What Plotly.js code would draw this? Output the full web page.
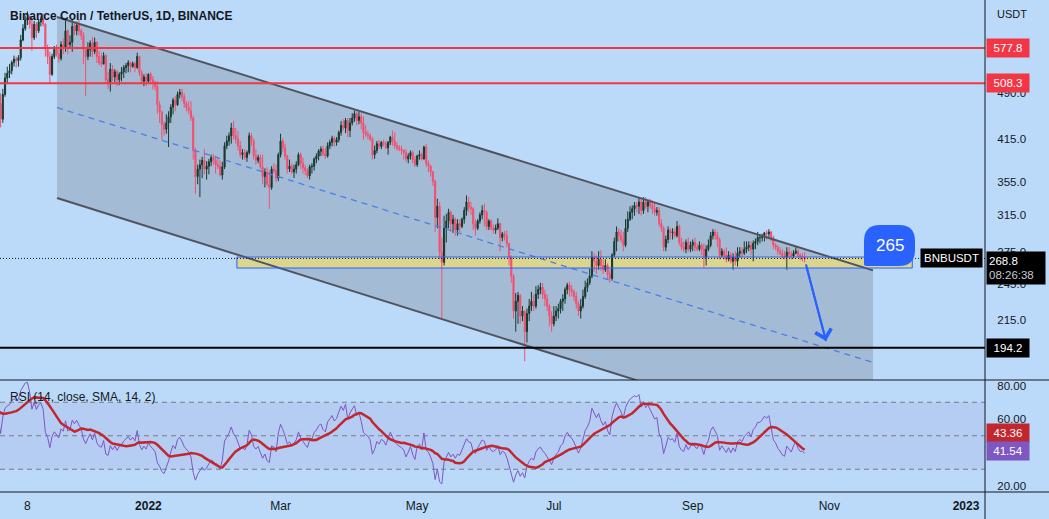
<!DOCTYPE html>
<html>
<head>
<meta charset="utf-8">
<script src="https://cdn.plot.ly/plotly-3.0.1.min.js"></script>
<style>
html,body{margin:0;padding:0;background:#bbdaf9;}
#chart{width:1049px;height:519px;}
</style>
</head>
<body>
<div id="chart"></div>
<script>
// ---------------- DATA (BNB/USDT daily) ----------------
const startDate = '2021-09-28';
const firstOpen = 380;
const close = [
385,392,380,
418,412,426,420,436,428,440,430,436,404,412,420,446,470,462,458,474,464,470,478,462,472,480,474,484,472,446,488,518,527,532,
548,555,552,558,595,620,640,645,630,600,630,615,635,642,630,575,560,525,560,575,566,556,585,578,615,585,590,625,615,628,
615,605,575,560,575,588,570,590,560,548,545,562,515,510,535,520,530,515,525,530,538,542,548,540,546,538,560,528,512,520,512,
525,515,510,502,470,458,438,430,440,450,466,478,470,488,492,484,472,465,460,448,398,362,372,378,384,372,376,382,388,384,378,
376,364,375,405,412,420,432,420,415,405,392,395,388,395,420,412,390,384,388,375,362,368,352,348,372,370,360,392,
412,402,390,372,376,368,372,378,392,380,374,370,363,375,376,386,390,397,400,393,390,405,410,416,410,414,425,436,432,444,428,
440,448,455,444,450,440,425,422,420,415,392,398,408,404,410,408,402,410,418,412,405,402,400,398,395,386,390,395,385,378,
390,392,386,403,380,376,368,356,312,325,275,265,300,308,318,305,310,298,305,302,310,320,330,324,322,305,300,308,315,320,318,
302,308,300,298,300,305,290,294,292,284,270,252,222,230,235,218,222,206,220,226,230,226,236,240,242,236,232,226,218,212,
218,222,224,230,232,240,244,240,238,234,228,222,226,234,242,246,252,270,266,262,268,262,258,262,254,250,272,286,296,292,288,
282,300,310,318,322,326,325,330,320,330,325,330,326,322,318,320,305,300,280,288,298,295,296,292,302,285,280,278,285,278,282,
285,280,278,282,278,270,278,282,292,296,292,288,272,276,272,268,272,266,270,266,274,276,274,278,280,282,278,284,286,290,
290,292,295,294,296,290,282,280,276,274,271,270,275,273,271,274,276,272,270,270,268.8
];
const high = [
392,398,396,
422,424,432,430,442,440,446,444,442,440,418,425,450,475,478,470,480,478,476,486,482,476,486,486,490,488,490,498,528,540,545,
552,562,560,563,606,630,650,660,650,648,638,635,642,648,655,632,585,570,566,582,585,575,592,598,640,618,605,640,632,636,
642,620,612,580,590,594,601,600,592,572,567,569,565,530,547,543,535,533,529,539,543,547,553,550,550,550,568,562,533,525,527,
527,530,522,513,512,476,460,443,454,459,471,482,485,493,498,498,490,476,476,476,452,402,378,385,389,400,383,386,392,393,390,
388,384,382,410,420,425,440,443,432,428,412,400,400,398,425,424,416,400,392,392,392,373,374,370,376,380,378,395,
423,416,408,392,385,380,378,383,395,395,388,378,373,378,380,388,394,400,404,405,402,410,414,420,419,418,428,443,446,448,448,
448,456,460,458,458,455,451,436,428,424,418,405,412,414,412,414,412,412,420,428,425,410,406,405,400,400,394,398,398,390,
392,398,395,405,408,384,378,370,358,334,330,290,314,316,322,320,315,312,310,310,312,324,338,336,330,324,310,310,318,326,328,
320,310,310,304,304,311,306,296,297,298,284,272,254,237,238,236,226,222,224,232,238,236,243,244,246,246,240,236,228,222,
226,226,228,232,236,242,246,247,244,240,238,230,232,240,248,250,259,276,274,272,276,277,268,268,264,258,274,290,302,300,298,
296,310,319,325,326,330,330,335,334,336,336,333,334,332,330,324,324,310,302,292,302,300,300,300,308,304,290,286,288,290,286,
288,290,284,286,284,284,282,288,296,299,299,296,290,279,278,280,276,275,274,276,280,280,280,286,286,286,286,287,289,296,
294,294,296,298,299,297,292,284,282,280,278,276,280,280,276,277,280,278,274,274,275
];
const low = [
375,380,372,
378,404,408,412,416,422,426,424,426,398,396,405,416,442,455,450,455,460,462,466,458,460,468,470,472,466,433,440,484,508,518,
525,540,538,540,552,592,615,628,620,572,595,600,610,625,625,560,545,508,522,555,560,548,552,565,570,565,578,570,605,605,
605,595,545,485,553,560,559,565,547,543,539,545,507,498,493,512,510,503,505,512,518,527,529,529,538,529,536,522,507,503,503,
507,507,497,495,455,440,414,420,423,403,440,454,459,468,481,476,465,459,454,443,385,340,352,336,360,365,358,365,376,378,366,
372,362,358,372,400,405,408,414,408,398,388,385,385,382,392,405,385,378,380,372,352,348,350,322,345,366,355,356,
388,396,385,366,368,365,360,366,376,372,366,364,360,358,366,370,380,384,390,390,386,388,400,404,404,405,410,420,428,424,418,
418,436,442,436,438,430,414,418,414,412,385,386,394,400,400,404,400,392,406,405,400,398,397,392,385,382,380,385,380,375,
375,385,384,385,375,368,362,350,296,300,268,216,262,285,300,296,295,292,292,296,300,305,314,318,315,298,292,298,305,310,302,
298,298,298,294,294,298,276,286,287,280,262,246,216,206,212,212,214,185,198,214,222,222,224,232,236,232,226,222,210,206,
210,214,216,220,222,228,236,234,234,230,224,218,216,224,232,238,244,250,256,254,258,257,254,256,249,246,248,270,276,286,285,
276,280,296,308,310,314,318,316,314,316,322,318,322,316,314,314,302,296,276,276,284,288,288,290,290,282,277,275,274,276,275,
276,276,276,276,272,260,262,276,280,288,288,280,268,270,268,265,266,264,258,262,261,270,270,272,274,276,272,266,278,282,
284,286,286,288,289,286,278,277,272,272,269,268,258,270,268,269,273,270,267,266,265
];

// Horizontal levels and tag texts
const redLevels = [577.8, 508.3];
const blackLevel = 194.2;
const lastPrice = 268.8;
const countdown = '08:26:38';
const symbolName = 'BNBUSDT';
const rsiTagValues = [43.36, 41.54];
const zoneText = '265';

// Drawings (anchor points: dates / prices)
const channelDates = ['2021-11-21 05:00', '2022-11-20 11:30'];
const channelUpper = [646.7, 257.4];
const channelLower = [334.9, 131.7];
const channelMid = [465.4, 184.1];
const zoneDates = ['2022-02-09 12:00', '2022-12-08 00:00'];
const zonePrices = [259.6, 270.2];
const arrowDates = ['2022-10-21 13:00', '2022-10-30 12:00'];
const arrowPrices = [263.2, 199.1];

// Axis ticks
const xTickVals = ['2021-11-08', '2022-01-01', '2022-03-01', '2022-05-01', '2022-07-01', '2022-09-01', '2022-11-01', '2023-01-01'];
const xTickText = ['8', '<b>2022</b>', 'Mar', 'May', 'Jul', 'Sep', 'Nov', '<b>2023</b>'];
const yTickVals = [215, 245, 275, 315, 355, 415, 490];
const yTickText = ['215.0', '245.0', '275.0', '315.0', '355.0', '415.0', '490.0'];
const rsiTickVals = [20, 60, 80];
const rsiTickText = ['20.00', '60.00', '80.00'];
const xRange = ['2021-10-26 18:00', '2023-01-09 11:30'];
const yRange = [172.77, 688.0];
const rsiRange = [16.42, 83.28];

// ---------------- DERIVED ----------------
const dates = close.map((_, i) => {
  const d = new Date(Date.UTC(2021, 8, 28 + i));
  return d.toISOString().slice(0, 10);
});
const open = close.map((c, i) => (i === 0 ? firstOpen : close[i - 1]));

function rsiCalc(src, len) {
  const out = new Array(src.length).fill(null);
  let au = 0, ad = 0;
  for (let i = 1; i < src.length; i++) {
    const ch = src[i] - src[i - 1];
    const u = Math.max(ch, 0), d = Math.max(-ch, 0);
    if (i <= len) { au += u / len; ad += d / len; }
    else { au = (au * (len - 1) + u) / len; ad = (ad * (len - 1) + d) / len; }
    if (i >= len) out[i] = ad === 0 ? 100 : 100 - 100 / (1 + au / ad);
  }
  return out;
}
function smaCalc(src, len) {
  const out = new Array(src.length).fill(null);
  for (let i = 0; i < src.length; i++) {
    if (i < len - 1) continue;
    let s = 0, ok = true;
    for (let k = i - len + 1; k <= i; k++) { if (src[k] === null) { ok = false; break; } s += src[k]; }
    if (ok) out[i] = s / len;
  }
  return out;
}
const rsi = rsiCalc(close, 14);
const rsiMA = smaCalc(rsi, 14);

// ---------------- LAYOUT GEOMETRY ----------------
const W = 1049, H = 519, ML = 0, MR = 64, MT = 0, MB = 27;
const PW = W - ML - MR, PH = H - MT - MB;
const split = 112 / PH;
const fx = x => x / PW;
const fy = y => 1 - y / PH;
function ms(s) { const parts = s.split(' '); return Date.parse(parts[0] + 'T' + (parts[1] || '00:00') + ':00Z'); }
const T0 = ms(xRange[0]), T1 = ms(xRange[1]);
const LY0 = Math.log10(yRange[0]), LY1 = Math.log10(yRange[1]);
const xp = s => (ms(s) - T0) / (T1 - T0);                          // date -> paper x
const yp = p => split + (Math.log10(p) - LY0) / (LY1 - LY0) * (1 - split); // price -> paper y

const BG = '#bbdaf9';
const TXT = '#131722';
const FONT = 'Liberation Sans, Arial, sans-serif';

const traces = [];
// channel lines
traces.push({type: 'scatter', mode: 'lines', x: channelDates, y: channelUpper, line: {color: '#50545f', width: 2}, hoverinfo: 'skip', showlegend: false});
traces.push({type: 'scatter', mode: 'lines', x: channelDates, y: channelLower, line: {color: '#50545f', width: 2}, hoverinfo: 'skip', showlegend: false});
traces.push({type: 'scatter', mode: 'lines', x: channelDates, y: channelMid, line: {color: '#4a7fe6', width: 1.3, dash: '6px,5px'}, hoverinfo: 'skip', showlegend: false});
// zone border
traces.push({
  type: 'scatter', mode: 'lines', xaxis: 'x', yaxis: 'y',
  x: [zoneDates[0], zoneDates[1], zoneDates[1], zoneDates[0], zoneDates[0]],
  y: [zonePrices[0], zonePrices[0], zonePrices[1], zonePrices[1], zonePrices[0]],
  line: {width: 1, color: '#2962ff'}, hoverinfo: 'skip', showlegend: false
});
// last price dotted line
traces.push({type: 'scatter', mode: 'lines', x: xRange, y: [lastPrice, lastPrice], line: {color: TXT, width: 1, dash: '1px,2px'}, hoverinfo: 'skip', showlegend: false});
// candles
traces.push({
  type: 'candlestick', x: dates, open: open, high: high, low: low, close: close,
  xaxis: 'x', yaxis: 'y',
  increasing: {line: {color: '#163a2d', width: 1}, fillcolor: '#163a2d'},
  decreasing: {line: {color: '#f2506f', width: 1}, fillcolor: '#f2506f'},
  whiskerwidth: 0, hoverinfo: 'skip', showlegend: false
});
// horizontal levels
redLevels.forEach(v => traces.push({type: 'scatter', mode: 'lines', x: xRange, y: [v, v], line: {color: '#f23645', width: 2}, hoverinfo: 'skip', showlegend: false}));
traces.push({type: 'scatter', mode: 'lines', x: xRange, y: [blackLevel, blackLevel], line: {color: '#000000', width: 2}, hoverinfo: 'skip', showlegend: false});
// arrow shaft
traces.push({type: 'scatter', mode: 'lines', x: arrowDates, y: arrowPrices, line: {color: '#2962ff', width: 2}, hoverinfo: 'skip', showlegend: false});
// RSI
traces.push({type: 'scatter', mode: 'lines', x: dates, y: rsi, xaxis: 'x', yaxis: 'y2', line: {color: '#7e57c2', width: 1}, hoverinfo: 'skip', showlegend: false});
traces.push({type: 'scatter', mode: 'lines', x: dates, y: rsiMA, xaxis: 'x', yaxis: 'y2', line: {color: '#c2262f', width: 2.5}, hoverinfo: 'skip', showlegend: false});

// ---------------- SHAPES ----------------
const shapes = [];
// channel fill (paper coords, clipped to the price pane)
(function () {
  const xa = xp(channelDates[0]), xb = xp(channelDates[1]);
  const ua = yp(channelUpper[0]), ub = yp(channelUpper[1]);
  const la = yp(channelLower[0]), lb = yp(channelLower[1]);
  let pts;
  if (lb < split) {
    const t = (la - split) / (la - lb);
    const xi = xa + t * (xb - xa);
    pts = [[xa, ua], [xb, ub], [xb, split], [xi, split], [xa, la]];
  } else {
    pts = [[xa, ua], [xb, ub], [xb, lb], [xa, la]];
  }
  const path = 'M' + pts.map(p => p[0] + ',' + p[1]).join(' L') + ' Z';
  shapes.push({type: 'path', xref: 'paper', yref: 'paper', path: path, fillcolor: '#a4bbd6', line: {width: 0}, layer: 'below'});
})();
// yellow zone fill
shapes.push({type: 'rect', xref: 'paper', yref: 'paper', x0: xp(zoneDates[0]), x1: xp(zoneDates[1]), y0: yp(zonePrices[0]), y1: yp(zonePrices[1]),
  fillcolor: '#dcd58e', line: {width: 0}, layer: 'below'});
// RSI band and levels
shapes.push({type: 'rect', xref: 'paper', yref: 'y2', x0: 0, x1: 1, y0: 30, y1: 70, fillcolor: 'rgba(126,87,194,0.10)', line: {width: 0}, layer: 'below'});
[70, 50, 30].forEach(v => shapes.push({type: 'line', xref: 'paper', yref: 'y2', x0: 0, x1: 1, y0: v, y1: v, line: {color: '#787b86', width: 1, dash: '5px,4px'}, layer: 'below'}));
// pane separators and price-scale border
shapes.push({type: 'line', xref: 'paper', yref: 'paper', x0: 0, x1: W / PW, y0: split, y1: split, line: {color: TXT, width: 1}});
shapes.push({type: 'line', xref: 'paper', yref: 'paper', x0: 0, x1: W / PW, y0: 0, y1: 0, line: {color: TXT, width: 1}});
shapes.push({type: 'line', xref: 'paper', yref: 'paper', x0: 1, x1: 1, y0: -MB / PH, y1: 1, line: {color: TXT, width: 1}});
// "265" bubble (rounded callout)
(function () {
  const l = 864, r = 915, t = 225, b = 266, rr = 16, rs = 2;
  const P = (x, y) => fx(x) + ',' + fy(y);
  const path = 'M' + P(l + rr, t) + ' L' + P(r - rr, t) + ' Q' + P(r, t) + ' ' + P(r, t + rr) +
    ' L' + P(r, b - rr) + ' Q' + P(r, b) + ' ' + P(r - rr, b) +
    ' L' + P(l + rs, b) + ' Q' + P(l, b) + ' ' + P(l, b - rs) +
    ' L' + P(l, t + rr) + ' Q' + P(l, t) + ' ' + P(l + rr, t) + ' Z';
  shapes.push({type: 'path', xref: 'paper', yref: 'paper', path: path, fillcolor: '#2962ff', line: {width: 0}});
})();

// ---------------- ANNOTATIONS ----------------
const annotations = [];
annotations.push({xref: 'paper', yref: 'paper', x: 0, y: fy(16), xanchor: 'left', yanchor: 'middle', xshift: 8, showarrow: false,
  text: 'Binance Coin / TetherUS, 1D, BINANCE', font: {family: FONT, size: 12, weight: 600, color: TXT}});
annotations.push({xref: 'paper', yref: 'paper', x: 0, y: fy(397), xanchor: 'left', yanchor: 'middle', xshift: 8, showarrow: false,
  text: 'RSI (14, close, SMA, 14, 2)', font: {family: FONT, size: 12, color: TXT}});
annotations.push({xref: 'paper', yref: 'paper', x: 1, y: fy(14), xanchor: 'left', yanchor: 'middle', xshift: 10, showarrow: false,
  text: 'USDT', font: {family: FONT, size: 11, color: TXT}});
annotations.push({xref: 'paper', yref: 'paper', x: fx(889.5), y: fy(245), xanchor: 'center', yanchor: 'middle', showarrow: false,
  text: zoneText, font: {family: FONT, size: 17, color: '#ffffff'}});
// arrow head
annotations.push({xref: 'x', yref: 'y', x: arrowDates[1], y: Math.log10(arrowPrices[1]), ax: -20, ay: -76, axref: 'pixel', ayref: 'pixel',
  showarrow: true, arrowhead: 4, arrowsize: 1.6, arrowwidth: 2, arrowcolor: '#2962ff', text: ''});
function tag(yref, val, text, bg, yshift, opts) {
  return Object.assign({xref: 'paper', yref: yref, x: 1, y: yref === 'y' ? Math.log10(val) : val, xanchor: 'left', yanchor: 'middle',
    xshift: 1, yshift: yshift || 0, showarrow: false, text: text, bgcolor: bg, borderpad: 2, width: 38, height: 14, align: 'center',
    font: {family: FONT, size: 11.5, color: '#ffffff'}}, opts || {});
}
redLevels.forEach(v => annotations.push(tag('y', v, v.toFixed(1), '#f23645', 0)));
annotations.push(tag('y', blackLevel, blackLevel.toFixed(1), '#000000', 0));
annotations.push(tag('y', lastPrice, lastPrice.toFixed(1) + '<br><span style="color:#c8cad2">' + countdown + '</span>', '#000000', 7.5,
  {yanchor: 'top', width: 54, height: 28, borderpad: 2, align: 'left', xshift: 1}));
annotations.push({xref: 'paper', yref: 'y', x: 1, y: Math.log10(lastPrice), xanchor: 'right', yanchor: 'middle', xshift: -2, showarrow: false,
  text: symbolName, bgcolor: '#000000', borderpad: 3, font: {family: FONT, size: 11.5, color: '#ffffff'}});
annotations.push(tag('y2', rsiTagValues[0], rsiTagValues[0].toFixed(2), '#c2262f', 14));
annotations.push(tag('y2', rsiTagValues[1], rsiTagValues[1].toFixed(2), '#7e57c2', -1));

const axisFont = {family: FONT, size: 11.5, color: TXT};
const layout = {
  width: W, height: H,
  margin: {l: ML, r: MR, t: MT, b: MB, pad: 0},
  paper_bgcolor: BG, plot_bgcolor: BG,
  showlegend: false,
  xaxis: {type: 'date', range: xRange, anchor: 'y2', domain: [0, 1], showgrid: false, zeroline: false, showline: false,
    tickvals: xTickVals, ticktext: xTickText, tickfont: {family: FONT, size: 12, color: TXT},
    ticks: 'outside', ticklen: 3, tickcolor: 'rgba(0,0,0,0)', rangeslider: {visible: false}, fixedrange: true},
  yaxis: {type: 'log', domain: [split, 1], range: [LY0, LY1], side: 'right', anchor: 'x',
    showgrid: false, zeroline: false, showline: false, tickvals: yTickVals, ticktext: yTickText, tickfont: axisFont,
    ticks: 'outside', ticklen: 9, tickcolor: 'rgba(0,0,0,0)', fixedrange: true},
  yaxis2: {domain: [0, split], range: rsiRange, side: 'right', anchor: 'x', showgrid: false, zeroline: false, showline: false,
    tickvals: rsiTickVals, ticktext: rsiTickText, tickfont: axisFont, ticks: 'outside', ticklen: 9, tickcolor: 'rgba(0,0,0,0)', fixedrange: true},
  shapes: shapes,
  annotations: annotations
};

Plotly.newPlot('chart', traces, layout, {staticPlot: true, displayModeBar: false});
</script>
</body>
</html>
